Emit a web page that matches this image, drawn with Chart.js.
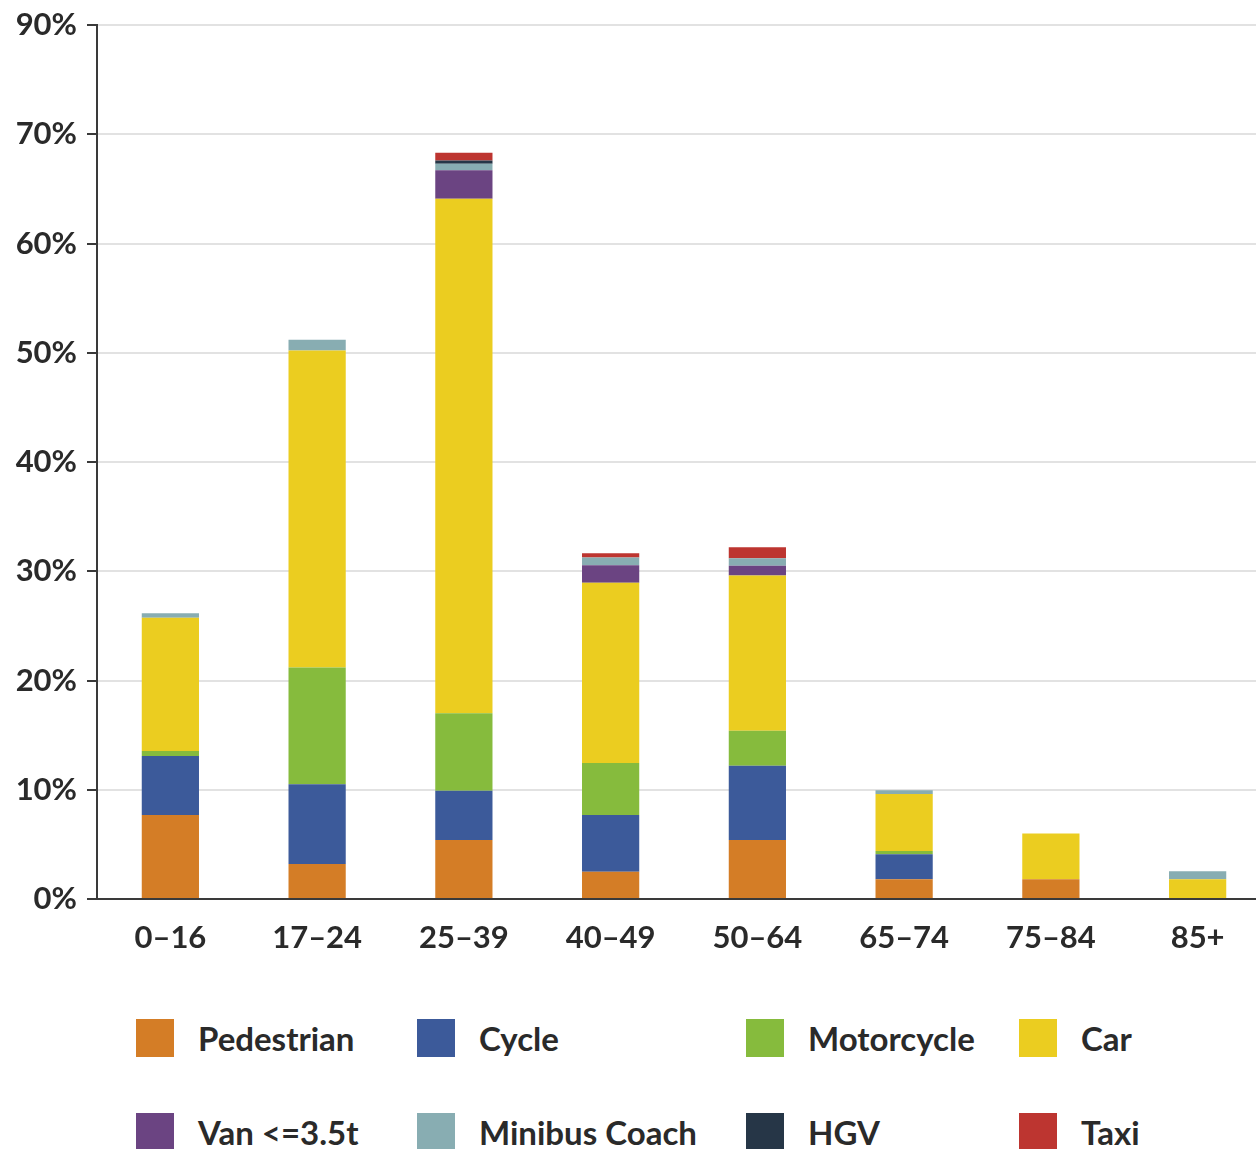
<!DOCTYPE html>
<html lang="en">

<head>
    <meta charset="UTF-8">
    <meta name="viewport" content="width=device-width, initial-scale=1.0">
    <script src="https://cdn.jsdelivr.net/npm/chart.js"></script>
    <title>Casualties by age group</title>
    <style>
        body { margin: 0; background: #fff; overflow: hidden; }
        #wrap { position: relative; width: 1256px; height: 1149px; overflow: hidden; }
        #chartBox { position: absolute; left: 0; top: 0; width: 1271px; height: 980px; }
        .item { position: absolute; height: 38px; display: flex; align-items: center;
                font: 700 33px Lato, sans-serif; color: #2a2a2a; white-space: nowrap; }
        .item span.box { width: 38px; height: 38px; margin-right: 24px; display: inline-block; }
    </style>
</head>

<body>
    <div id="wrap">
        <div id="chartBox"><canvas id="modes"></canvas></div>
        <div id="legend"></div>
    </div>

    <script>
        // age groups and share of casualties (%) by mode of travel
        var ageGroups = ['0\u201316', '17\u201324', '25\u201339', '40\u201349', '50\u201364', '65\u201374', '75\u201384', '85+'];
        var yTickLabels = ['0%', '10%', '20%', '30%', '40%', '50%', '60%', '70%', '90%'];

        var pedestrian = [7.7, 3.2, 5.4, 2.5, 5.4, 1.8, 1.8, 0.1];
        var cycle      = [5.4, 7.3, 4.5, 5.2, 6.8, 2.3, 0, 0];
        var motorcycle = [0.45, 10.7, 7.1, 4.75, 3.2, 0.3, 0, 0];
        var car        = [12.2, 29.0, 47.1, 16.5, 14.2, 5.2, 4.2, 1.7];
        var van        = [0, 0, 2.6, 1.6, 0.9, 0, 0, 0];
        var minibus    = [0.4, 1.0, 0.6, 0.7, 0.7, 0.35, 0, 0.75];
        var hgv        = [0, 0, 0.3, 0, 0, 0, 0, 0];
        var taxi       = [0, 0, 0.7, 0.4, 1.0, 0, 0, 0];

        var datasets = [
            { label: 'Pedestrian', data: pedestrian, backgroundColor: '#d47d26' },
            { label: 'Cycle', data: cycle, backgroundColor: '#3c5a9a' },
            { label: 'Motorcycle', data: motorcycle, backgroundColor: '#86bb3d' },
            { label: 'Car', data: car, backgroundColor: '#ebcd20' },
            { label: 'Van <=3.5t', data: van, backgroundColor: '#6b4482' },
            { label: 'Minibus Coach', data: minibus, backgroundColor: '#88adb2' },
            { label: 'HGV', data: hgv, backgroundColor: '#263647' },
            { label: 'Taxi', data: taxi, backgroundColor: '#bd3530' }
        ];
        datasets.forEach(function (d) {
            d.barPercentage = 0.39;
            d.categoryPercentage = 1;
            d.borderWidth = 0;
        });

        var tickFont = { family: 'Lato', size: 31, weight: '700' };

        var chart = new Chart(document.getElementById('modes').getContext('2d'), {
            type: 'bar',
            data: { labels: ageGroups, datasets: datasets },
            options: {
                responsive: true,
                maintainAspectRatio: false,
                animation: false,
                layout: { padding: { top: 25, right: 0, left: 0, bottom: 0 } },
                plugins: { legend: { display: false }, tooltip: { enabled: false } },
                scales: {
                    x: {
                        stacked: true,
                        grid: { display: false, drawTicks: false, tickLength: 0 },
                        border: { display: true, color: '#3a3a3a', width: 2 },
                        ticks: { color: '#2a2a2a', font: tickFont, padding: 20, maxRotation: 0 },
                        afterFit: function (s) { s.height = 81; s.paddingLeft = 0; s.paddingRight = 0; }
                    },
                    y: {
                        stacked: true,
                        min: 0,
                        max: 80,
                        ticks: {
                            stepSize: 10,
                            color: '#2a2a2a',
                            font: tickFont,
                            padding: 10,
                            callback: function (v, i) { return yTickLabels[i]; }
                        },
                        grid: { color: '#e2e2e2', lineWidth: 2, tickColor: '#3a3a3a', tickLength: 10 },
                        border: { display: true, color: '#3a3a3a', width: 2 },
                        // keep the top tick label from pushing the plot area down
                        afterFit: function (s) { s.width = 97; s.paddingTop = 0; s.paddingBottom = 0; }
                    }
                }
            }
        });

        // legend laid out in two rows of four fixed columns
        var colLeft = [136, 417, 746, 1019];
        var rowTop = [1019, 1113];
        var legend = document.getElementById('legend');
        chart.data.datasets.forEach(function (d, i) {
            var el = document.createElement('div');
            el.className = 'item';
            el.style.left = colLeft[i % 4] + 'px';
            el.style.top = rowTop[Math.floor(i / 4)] + 'px';
            var box = document.createElement('span');
            box.className = 'box';
            box.style.background = d.backgroundColor;
            el.appendChild(box);
            el.appendChild(document.createTextNode(d.label));
            legend.appendChild(el);
        });
    </script>
</body>

</html>
